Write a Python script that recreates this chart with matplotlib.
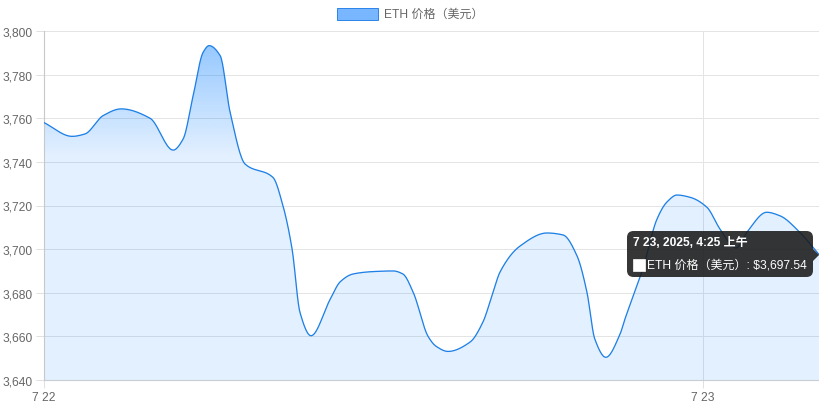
import numpy as np
import matplotlib
matplotlib.use("Agg")
import matplotlib.pyplot as plt
from matplotlib.patches import Polygon, FancyBboxPatch, Rectangle

plt.rcParams['font.family'] = ['Liberation Sans', 'Noto Sans CJK SC', 'DejaVu Sans']

# hours since 7/22 00:00 and ETH price (USD)
hours = [-1.10, -0.03, 0.46, 1.15, 1.84, 2.94, 3.82, 4.20, 4.58, 4.96, 5.19, 5.61,
         5.99, 6.56, 7.62, 8.00, 8.35, 8.65, 9.07, 9.80, 10.18, 10.67, 11.43, 12.20,
         12.57, 12.96, 13.53, 13.83, 14.29, 15.13, 15.62, 15.96, 16.27, 17.03, 18.06,
         18.67, 19.20, 19.58, 19.88, 20.30, 20.84, 21.03, 21.71, 22.25, 22.62, 23.01,
         23.50, 24.15, 24.65, 25.26, 25.67, 26.43, 26.93, 27.69, 28.42]
price = [3758.0, 3751.7, 3752.8, 3761.2, 3764.3, 3760.0, 3745.4, 3750.5, 3770.3, 3790.2,
         3793.3, 3788.7, 3762.7, 3739.0, 3732.9, 3720.0, 3700.0, 3671.0, 3660.3, 3677.0,
         3685.0, 3688.6, 3689.7, 3690.0, 3688.6, 3680.3, 3660.0, 3655.5, 3653.1, 3657.4,
         3666.6, 3678.5, 3689.5, 3701.4, 3707.4, 3706.5, 3697.0, 3680.3, 3658.8, 3650.4,
         3661.0, 3668.0, 3691.0, 3713.8, 3721.5, 3724.8, 3723.8, 3719.2, 3709.2, 3700.5,
         3707.7, 3716.9, 3715.3, 3707.7, 3697.54]
yticks = [3640, 3660, 3680, 3700, 3720, 3740, 3760, 3780, 3800]
xtick_pos = [hours[0], 24]
xtick_labels = ['7 22', '7 23']
series_name = 'ETH 价格（美元）'
tip_title = '7 23, 2025, 4:25 上午'

PX = 72 / 100  # points per pixel at dpi 100


def pchip(x, y, xs):
    # monotone cubic (Fritsch-Carlson), like Chart.js "monotone"
    x = np.asarray(x, float)
    y = np.asarray(y, float)
    h = np.diff(x)
    d = np.diff(y) / h
    m = np.zeros_like(y)
    m[0], m[-1] = d[0], d[-1]
    for k in range(1, len(y) - 1):
        if d[k - 1] * d[k] > 0:
            w1 = 2 * h[k] + h[k - 1]
            w2 = h[k] + 2 * h[k - 1]
            m[k] = (w1 + w2) / (w1 / d[k - 1] + w2 / d[k])
    idx = np.clip(np.searchsorted(x, xs) - 1, 0, len(x) - 2)
    t = (xs - x[idx]) / h[idx]
    h00 = 2 * t**3 - 3 * t**2 + 1
    h10 = t**3 - 2 * t**2 + t
    h01 = -2 * t**3 + 3 * t**2
    h11 = t**3 - t**2
    return h00 * y[idx] + h10 * h[idx] * m[idx] + h01 * y[idx + 1] + h11 * h[idx] * m[idx + 1]


fig = plt.figure(figsize=(8.2, 4.1), dpi=100)
ax = fig.add_axes([44 / 820, 29 / 410, 775 / 820, 349 / 410])

xs = np.linspace(hours[0], hours[-1], 1500)
ys = pchip(hours, price, xs)

ymin, ymax = 3640, 3800
ax.set_xlim(hours[0], hours[-1])
ax.set_ylim(ymin, ymax)

# gradient fill clipped to the area under the curve
grad = np.linspace(0, 1, 256)[:, None]   # 0 top -> 1 bottom
alpha = np.where(grad < 0.36, 0.45 - (0.45 - 0.11) * (grad / 0.36), 0.11)
img = np.zeros((256, 1, 4))
img[..., 1] = 123 / 255
img[..., 2] = 1.0
img[..., 3] = alpha
im = ax.imshow(img, extent=[hours[0], hours[-1], ymin, ymax], aspect='auto',
               origin='upper', zorder=1)
verts = np.column_stack([np.r_[xs, xs[-1], xs[0]], np.r_[ys, ymin, ymin]])
poly = Polygon(verts, closed=True, facecolor='none', edgecolor='none')
ax.add_patch(poly)
im.set_clip_path(poly)

ax.plot(xs, ys, color='#1e80e6', lw=1.3 * PX, zorder=3)

# axes styling
ax.set_yticks(yticks)
ax.set_yticklabels([f'{v:,}' for v in yticks])
ax.set_xticks(xtick_pos)
ax.set_xticklabels(xtick_labels)
ax.grid(True, color='#e4e4e4', lw=1 * PX, zorder=0)
ax.set_axisbelow(True)
for s in ['top', 'right']:
    ax.spines[s].set_visible(False)
ax.spines['left'].set_color('#c8c8c8')
ax.spines['bottom'].set_color('#c8ccd4')
ax.tick_params(axis='both', colors='#e0e0e0', length=8 * PX, width=1 * PX, labelcolor='#666666',
               labelsize=12 * PX)
ax.tick_params(axis='y', pad=3 * PX)
ax.tick_params(axis='x', pad=3 * PX)

# legend
fig.patches.append(Rectangle((337 / 820, 1 - 21 / 410), 41 / 820, 12 / 410, transform=fig.transFigure,
                             facecolor='#78b6ff', edgecolor='#2f86ea', lw=1 * PX))
fig.text(384 / 820, 1 - 15 / 410, series_name, fontsize=12 * PX, color='#666666', va='center', ha='left')

# tooltip
tip_bg = (0.1, 0.1, 0.1, 0.88)
tx0, ty0, tx1, ty1 = 627, 232, 813, 278
box = FancyBboxPatch((tx0 / 820, 1 - ty1 / 410), (tx1 - tx0) / 820, (ty1 - ty0) / 410,
                     boxstyle='round,pad=0,rounding_size=0.008', transform=fig.transFigure,
                     facecolor=tip_bg, edgecolor='none', zorder=10, mutation_aspect=2)
fig.patches.append(box)
fig.patches.append(Polygon([[813 / 820, 1 - 250 / 410], [819 / 820, 1 - 256 / 410],
                            [813 / 820, 1 - 262 / 410]], closed=True, transform=fig.transFigure,
                           facecolor=tip_bg, edgecolor='none', zorder=10))
fig.text(633 / 820, 1 - 243.5 / 410, tip_title, fontsize=12 * PX, color='white', fontweight='bold',
         va='center', ha='left', zorder=11)
fig.patches.append(Rectangle((633.5 / 820, 1 - 272 / 410), 12 / 820, 12 / 410, transform=fig.transFigure,
                             facecolor='white', edgecolor='white', lw=0.5, zorder=11))
fig.text(647 / 820, 1 - 265.5 / 410, f'{series_name}: ${price[-1]:,.2f}', fontsize=12 * PX, color='white',
         va='center', ha='left', zorder=11)

fig.savefig('out.png', dpi=100)
